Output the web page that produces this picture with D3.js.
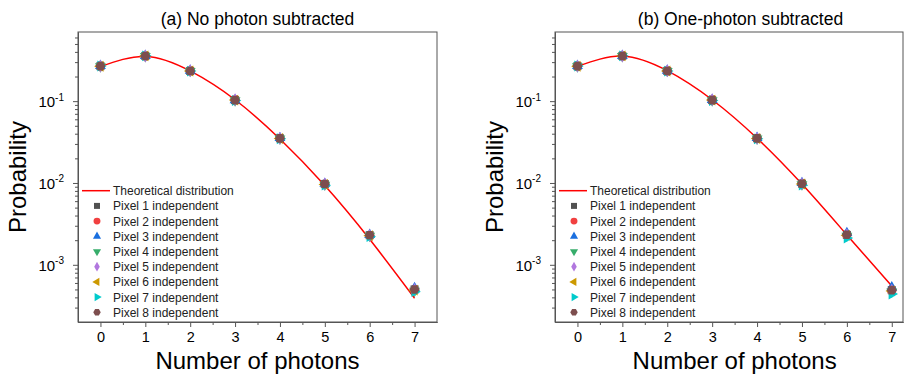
<!DOCTYPE html>
<html>
<head>
<meta charset="utf-8">
<script src="https://cdn.jsdelivr.net/npm/d3@7"></script>
<style>
  body { margin: 0; background: #fff; }
  svg { display: block; font-family: Arial, "Liberation Sans", sans-serif; }
</style>
</head>
<body>
<div id="app"></div>
<script>
// photon number
const photons = [0, 1, 2, 3, 4, 5, 6, 7];

// theory curves
const theoryA = [0.264, 0.352, 0.234, 0.104, 0.0345, 0.0093, 0.00205, 0.00039];
const theoryB = [0.266, 0.355, 0.236, 0.104, 0.0352, 0.0097, 0.00232, 0.00055];

// measured, 8 pixels, panel (a)
const pixelsA = [
  [0.268, 0.357, 0.234, 0.103, 0.0352, 0.0097, 0.00230, 0.00050],
  [0.267, 0.356, 0.235, 0.104, 0.0350, 0.0096, 0.00228, 0.00049],
  [0.270, 0.358, 0.236, 0.103, 0.0355, 0.0098, 0.00232, 0.00052],
  [0.266, 0.355, 0.233, 0.102, 0.0348, 0.0095, 0.00225, 0.00048],
  [0.268, 0.356, 0.235, 0.104, 0.0351, 0.0097, 0.00229, 0.00050],
  [0.267, 0.357, 0.234, 0.103, 0.0349, 0.0096, 0.00227, 0.00049],
  [0.269, 0.358, 0.233, 0.102, 0.0347, 0.0094, 0.00222, 0.00047],
  [0.268, 0.357, 0.234, 0.103, 0.0351, 0.0097, 0.00230, 0.00050]
];

// measured, 8 pixels, panel (b)
const pixelsB = [
  [0.268, 0.357, 0.234, 0.103, 0.0352, 0.0098, 0.00232, 0.00049],
  [0.267, 0.356, 0.235, 0.104, 0.0350, 0.0097, 0.00230, 0.00048],
  [0.270, 0.358, 0.236, 0.104, 0.0356, 0.0100, 0.00245, 0.00053],
  [0.266, 0.355, 0.233, 0.102, 0.0348, 0.0096, 0.00226, 0.00047],
  [0.268, 0.356, 0.235, 0.104, 0.0351, 0.0098, 0.00233, 0.00049],
  [0.267, 0.357, 0.234, 0.103, 0.0349, 0.0097, 0.00229, 0.00048],
  [0.269, 0.358, 0.233, 0.102, 0.0346, 0.0094, 0.00212, 0.00044],
  [0.268, 0.357, 0.234, 0.103, 0.0351, 0.0098, 0.00233, 0.00049]
];

const seriesNames = ['Pixel 1 independent', 'Pixel 2 independent', 'Pixel 3 independent', 'Pixel 4 independent',
  'Pixel 5 independent', 'Pixel 6 independent', 'Pixel 7 independent', 'Pixel 8 independent'];
const colors = ['#515151', '#F14040', '#1A6FDF', '#37AD6B', '#B177DE', '#CC9900', '#00CBCC', '#7D4E4E'];

const titles = ['(a) No photon subtracted', '(b) One-photon subtracted'];
const xTicks = [0, 1, 2, 3, 4, 5, 6, 7];
const yMajor = [1e-3, 1e-2, 1e-1];
const yExp = ['-3', '-2', '-1'];

// hexagon for pixel 8
const symbolHexagon = {
  draw( context, size ) {
    const r = Math.sqrt( size / ( 1.5 * Math.sqrt( 3 ) ) );
    for ( let i = 0; i < 6; i++ ) {
      const a = Math.PI / 3 * i;
      const px = r * Math.cos( a ), py = r * Math.sin( a );
      if ( i === 0 ) context.moveTo( px, py ); else context.lineTo( px, py );
    }
    context.closePath();
  }
};
// shape, rotation
const shapes = [
  [ d3.symbolSquare, 0 ], [ d3.symbolCircle, 0 ], [ d3.symbolTriangle, 0 ], [ d3.symbolTriangle, 180 ],
  [ d3.symbolDiamond, 0 ], [ d3.symbolTriangle, -90 ], [ d3.symbolTriangle, 90 ], [ symbolHexagon, 0 ]
];
const shapeScale = [1, 1.05, 0.8, 0.8, 0.75, 0.8, 0.8, 1.0];

const svg = d3.select('#app').append('svg').attr('width', 904).attr('height', 376);

function panel( left, right, xmax, title, titleX, theory, pixels ) {
  const top = 32, bottom = 322;
  const x = d3.scaleLinear().domain( [ -0.5, xmax ] ).range( [ left, right ] );
  const y = d3.scaleLog().domain( [ 2e-4, 0.7 ] ).range( [ bottom, top ] );
  const g = svg.append('g');

  // frame
  g.append('rect').attr('x', left).attr('y', top).attr('width', right - left).attr('height', bottom - top)
    .attr('fill', 'none').attr('stroke', '#555').attr('stroke-width', 1);

  // x axis
  const xa = g.append('g').attr('transform', `translate(0,${bottom})`)
    .call( d3.axisBottom( x ).tickValues( xTicks ).tickSize( 5 ).tickSizeOuter( 0 ).tickPadding( 5 ) );
  const halves = d3.range( -0.5, xmax + 0.01, 1 ).filter( v => v > -0.5 && v < xmax );
  g.append('g').attr('transform', `translate(0,${bottom})`)
    .call( d3.axisBottom( x ).tickValues( halves ).tickSize( 3 ).tickSizeOuter( 0 ).tickFormat( '' ) );

  // y axis
  g.append('g').attr('transform', `translate(${left},0)`)
    .call( d3.axisLeft( y ).tickValues( yMajor ).tickSize( 5 ).tickSizeOuter( 0 ).tickFormat( '' ) );
  const minors = [];
  for ( let e = -4; e <= -1; e++ ) for ( let m = 2; m <= 9; m++ ) {
    const v = m * Math.pow( 10, e );
    if ( v > 2e-4 && v < 0.7 ) minors.push( v );
  }
  g.append('g').attr('transform', `translate(${left},0)`)
    .call( d3.axisLeft( y ).tickValues( minors ).tickSize( 3 ).tickSizeOuter( 0 ).tickFormat( '' ) );

  g.selectAll('.domain').attr('stroke', '#555');
  g.selectAll('.tick line').attr('stroke', '#555');
  xa.selectAll('text').attr('font-size', 14.5).attr('fill', '#000').attr('font-family', 'Arial, "Liberation Sans", sans-serif');

  const yl = g.selectAll('.ylab').data( yMajor ).enter().append('text')
    .attr('x', left - 14).attr('y', d => y( d ) + 6)
    .attr('text-anchor', 'end').attr('font-size', 15).attr('fill', '#000');
  yl.append('tspan').text('10');
  yl.append('tspan').attr('dy', -6.5).attr('font-size', 10).text( (d, i) => yExp[i] );

  // theory line
  g.append('path').datum( photons )
    .attr('d', d3.line().x( d => x( d ) ).y( (d, i) => y( theory[i] ) ).curve( d3.curveNatural ) )
    .attr('fill', 'none').attr('stroke', '#FF0000').attr('stroke-width', 1.5);

  // measured points
  pixels.forEach( (vals, s) => {
    const sym = d3.symbol().type( shapes[s][0] ).size( 64 * shapeScale[s] );
    g.append('g').selectAll('path').data( photons ).enter().append('path')
      .attr('d', sym)
      .attr('transform', (d, i) => `translate(${x( d )},${y( vals[i] )}) rotate(${shapes[s][1]})`)
      .attr('fill', colors[s]);
  } );

  // legend
  const ly0 = 190.7, dy = 15.2;
  g.append('line').attr('x1', left + 4).attr('x2', left + 32).attr('y1', ly0).attr('y2', ly0)
    .attr('stroke', '#FF0000').attr('stroke-width', 1.5);
  g.append('text').attr('x', left + 35).attr('y', ly0 + 4.5).attr('font-size', 12).attr('fill', '#222')
    .text('Theoretical distribution');
  seriesNames.forEach( (name, s) => {
    const yy = ly0 + dy * ( s + 1 );
    const sym = d3.symbol().type( shapes[s][0] ).size( 36 * shapeScale[s] );
    g.append('path').attr('d', sym)
      .attr('transform', `translate(${left + 19},${yy}) rotate(${shapes[s][1]})`)
      .attr('fill', colors[s]);
    g.append('text').attr('x', left + 35).attr('y', yy + 4.5).attr('font-size', 12).attr('fill', '#222')
      .text( name );
  } );

  // titles
  g.append('text').attr('x', titleX).attr('y', 25).attr('text-anchor', 'middle')
    .attr('font-size', 17.5).attr('fill', '#000').text( title );
  g.append('text').attr('x', ( x( -0.5 ) + x( 7.5 ) ) / 2).attr('y', 369).attr('text-anchor', 'middle')
    .attr('font-size', 24).attr('fill', '#000').text('Number of photons');
  g.append('text').attr('transform', `translate(${left - 52},${( top + bottom ) / 2}) rotate(-90)`)
    .attr('text-anchor', 'middle').attr('font-size', 24).attr('fill', '#000').text('Probability');
}

panel( 78, 437, 7.5, titles[0], 257.5, theoryA, pixelsA );
panel( 555, 903, 7.25, titles[1], 740.5, theoryB, pixelsB );
</script>
</body>
</html>
